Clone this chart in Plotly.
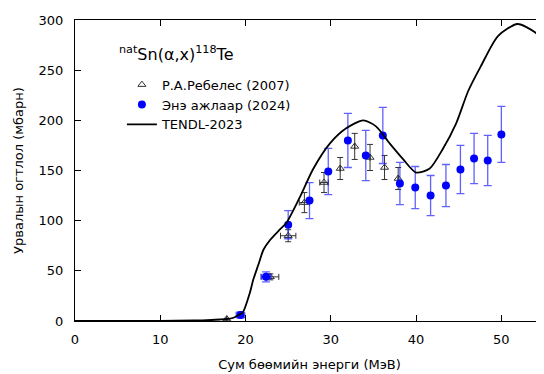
import plotly.graph_objects as go

# TENDL-2023 curve
tendl_x = [0, 5, 10, 14, 16, 17, 17.8, 18.5, 19.0, 19.7, 20.5, 20.9, 21.5, 22.1, 22.9, 24.0, 24.8,
           26.4, 27.9, 29.9, 31.8, 33.8, 35.3, 36.9, 38.5, 40.0, 41.6, 43.1, 44.7, 46.1, 47.6,
           49.6, 51.9, 53.9, 54.9, 56.0]
tendl_y = [0, 0, 0.2, 0.5, 1, 1.5, 2, 3, 5, 9, 28, 41, 56, 71, 81, 91, 98,
           124, 151, 177, 192, 200, 194, 177, 161, 148, 152, 171, 197, 229, 254,
           284, 296, 288, 279, 262]

# This work (2024)
new_x = [19.4, 22.4, 25.0, 27.5, 29.7, 32.0, 34.1, 36.1, 38.1, 39.9, 41.7, 43.5, 45.2, 46.8, 48.4, 50.0]
new_y = [6, 44, 96, 120, 149, 180, 165, 185, 137, 133, 125, 135, 151, 162, 160, 186]
new_dy = [3, 5, 14, 18, 23, 27, 25, 28, 21, 21, 20, 21, 24, 25, 25, 28]
new_dx = [0.5, 0.6, 0, 0, 0, 0, 0, 0, 0, 0, 0, 0, 0, 0, 0, 0]

# Rebeles (2007)
reb_x = [17.8, 22.9, 25.0, 26.9, 29.2, 31.1, 32.8, 34.6, 36.3, 37.9]
reb_y = [2, 44, 85, 118, 138, 152, 174, 163, 153, 142]
reb_dy = [0, 3, 6, 10, 10, 11, 13, 13, 12, 11]
reb_dx = [0, 1.0, 0.9, 0.6, 0.5, 0, 0, 0, 0, 0]

FONT = "DejaVu Sans"

fig = go.Figure()

fig.add_trace(go.Scatter(
    x=reb_x, y=reb_y, mode="markers", name="Р.А.Ребелес (2007)",
    marker=dict(symbol="triangle-up-open", size=7, color="#333333", line=dict(width=1)),
    error_y=dict(type="data", array=reb_dy, color="#333333", thickness=1, width=3),
    error_x=dict(type="data", array=reb_dx, color="#333333", thickness=1, width=3),
))

fig.add_trace(go.Scatter(
    x=new_x, y=new_y, mode="markers", name="Энэ ажлаар (2024)",
    marker=dict(symbol="circle", size=8, color="#0000ff"),
    error_y=dict(type="data", array=new_dy, color="rgba(30,30,255,0.7)", thickness=1.3, width=4),
    error_x=dict(type="data", array=new_dx, color="rgba(30,30,255,0.7)", thickness=1.3, width=3),
))

fig.add_trace(go.Scatter(
    x=tendl_x, y=tendl_y, mode="lines", name="TENDL-2023",
    line=dict(color="black", width=1.8, shape="spline", smoothing=0.7),
))

fig.add_annotation(
    x=0.09, y=0.89, xref="paper", yref="paper", xanchor="left", yanchor="middle",
    text="<sup>nat</sup>Sn(α,x)<sup>118</sup>Te", showarrow=False,
    font=dict(family=FONT, size=16, color="black"),
)

fig.update_layout(
    width=536, height=366,
    margin=dict(l=67, r=0, t=12, b=53),
    paper_bgcolor="white", plot_bgcolor="white",
    font=dict(family=FONT, size=13, color="black"),
    showlegend=True,
    legend=dict(x=0.1, y=0.835, xanchor="left", yanchor="top",
                bgcolor="rgba(0,0,0,0)", font=dict(size=13), tracegroupgap=0,
                itemsizing="trace"),
    xaxis=dict(range=[0, 55], tickvals=[0, 10, 20, 30, 40, 50], showgrid=False, zeroline=False,
               showline=True, linecolor="black", linewidth=1, mirror="ticks",
               ticks="inside", ticklen=6, tickcolor="black", ticklabelstandoff=6,
               title=dict(text="Сум бөөмийн энерги (МэВ)", font=dict(size=13), standoff=14)),
    yaxis=dict(range=[0, 300], tickvals=[0, 50, 100, 150, 200, 250, 300], showgrid=False, zeroline=False,
               showline=True, linecolor="black", linewidth=1, mirror="ticks",
               ticks="inside", ticklen=6, tickcolor="black", ticklabelstandoff=8,
               title=dict(text="Урвалын огтлол (мбарн)", font=dict(size=13), standoff=12)),
)

fig.write_html("out.html")
